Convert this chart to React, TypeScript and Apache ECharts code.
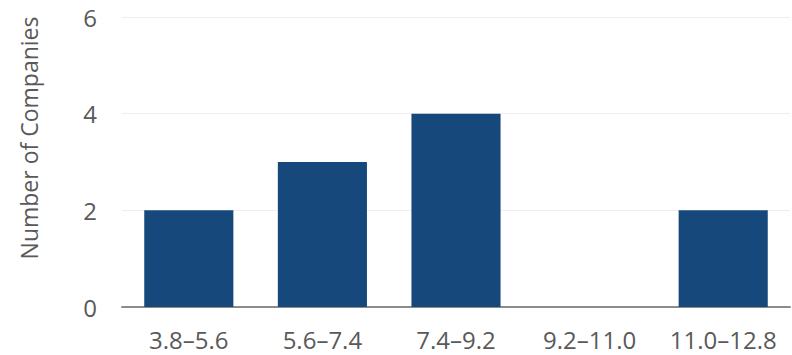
import React, { useEffect, useRef } from "react";
import * as echarts from "echarts";

const categories = ["3.8–5.6", "5.6–7.4", "7.4–9.2", "9.2–11.0", "11.0–12.8"];
const counts = [2, 3, 4, 0, 2];
const yTicks = { min: 0, max: 6, interval: 2 };
const yTitle = "Number of Companies";

const FONT = "'Open Sans', 'Noto Sans', sans-serif";
const TEXT_COLOR = "#595959";

export default function App() {
  const ref = useRef<HTMLDivElement>(null);
  useEffect(() => {
    if (!ref.current) return;
    const chart = echarts.init(ref.current, null, { renderer: "svg" });
    chart.setOption({
      animation: false,
      grid: { left: 122, right: 2, top: 17, bottom: 48, containLabel: false },
      xAxis: {
        type: "category",
        data: categories,
        axisTick: { show: false },
        axisLine: { lineStyle: { color: "#8c8c8c", width: 2 } },
        axisLabel: {
          color: TEXT_COLOR,
          fontFamily: FONT,
          fontSize: 24,
          margin: 20,
          interval: 0,
          hideOverlap: false,
        },
      },
      yAxis: {
        type: "value",
        min: yTicks.min,
        max: yTicks.max,
        interval: yTicks.interval,
        axisLine: { show: false },
        axisTick: { show: false },
        splitLine: { lineStyle: { color: "#eeeeee", width: 1 } },
        axisLabel: { color: TEXT_COLOR, fontFamily: FONT, fontSize: 24, margin: 25 },
      },
      graphic: [
        {
          type: "text",
          x: 29,
          y: 138,
          rotation: Math.PI / 2,
          style: {
            text: yTitle,
            fill: TEXT_COLOR,
            font: `23px ${FONT}`,
            textAlign: "center",
            textVerticalAlign: "middle",
          },
        },
      ],
      series: [
        {
          type: "bar",
          data: counts,
          barCategoryGap: "33.3%",
          itemStyle: { color: "#17487b" },
        },
      ],
    });
    return () => chart.dispose();
  }, []);
  return <div ref={ref} style={{ width: 792, height: 355, position: "absolute", left: 0, top: 0 }} />;
}
